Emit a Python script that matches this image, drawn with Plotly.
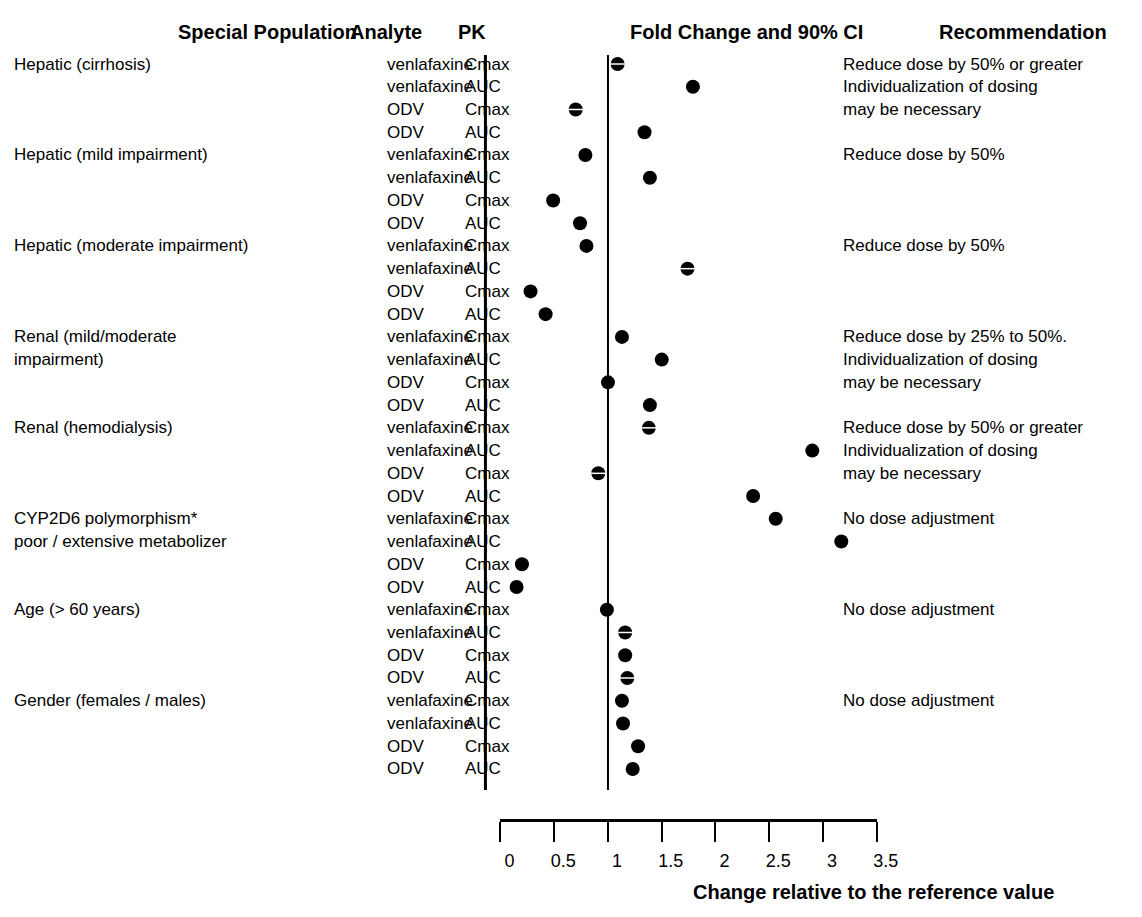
import plotly.graph_objects as go

# page body has an 8px margin: figure is sized so the page is 1142x917
W, H = 1142, 917
M = 8
WF, HF = W - 2 * M, H - 2 * M
WP = WF - 23  # effective paper width observed in the rendered page

populations = [
    "Hepatic (cirrhosis)", "", "", "",
    "Hepatic (mild impairment)", "", "", "",
    "Hepatic (moderate impairment)", "", "", "",
    "Renal (mild/moderate", "impairment)", "", "",
    "Renal (hemodialysis)", "", "", "",
    "CYP2D6 polymorphism*", "poor / extensive metabolizer", "", "",
    "Age (> 60 years)", "", "", "",
    "Gender (females / males)", "", "", "",
]
analytes = ["venlafaxine", "venlafaxine", "ODV", "ODV"] * 8
pk_params = ["Cmax", "AUC", "Cmax", "AUC"] * 8
fold_change = [
    1.09, 1.79, 0.70, 1.34,
    0.79, 1.39, 0.49, 0.74,
    0.80, 1.74, 0.28, 0.42,
    1.13, 1.50, 1.00, 1.39,
    1.38, 2.90, 0.91, 2.35,
    2.56, 3.17, 0.20, 0.15,
    0.99, 1.16, 1.16, 1.18,
    1.13, 1.14, 1.28, 1.23,
]
striped = [
    1, 0, 1, 0,
    0, 0, 0, 0,
    0, 1, 0, 0,
    0, 0, 0, 0,
    1, 0, 1, 0,
    0, 0, 0, 0,
    0, 1, 0, 1,
    0, 0, 0, 0,
]
recommendations = [
    "Reduce dose by 50% or greater", "Individualization of dosing", "may be necessary", "",
    "Reduce dose by 50%", "", "", "",
    "Reduce dose by 50%", "", "", "",
    "Reduce dose by 25% to 50%.", "Individualization of dosing", "may be necessary", "",
    "Reduce dose by 50% or greater", "Individualization of dosing", "may be necessary", "",
    "No dose adjustment", "", "", "",
    "No dose adjustment", "", "", "",
    "No dose adjustment", "", "", "",
]
x_ticks = [0, 0.5, 1, 1.5, 2, 2.5, 3, 3.5]
x_tick_labels = ["0", "0.5", "1", "1.5", "2", "2.5", "3", "3.5"]
headers = ["Special Population", "Analyte", "PK", "Fold Change and 90% CI", "Recommendation"]
axis_title = "Change relative to the reference value"

FONT = "Liberation Sans, Arial, sans-serif"
rows = list(range(len(fold_change)))
y0, dy = 64 - M, 22.74
y_top = -y0 / dy
y_bot = (HF - y0) / dy


def px(x):
    return (x - M) / WP


def py(y):
    return 1 - (y - M) / HF


def ry(y):
    return (y - M - y0) / dy


fig = go.Figure()
fig.add_trace(go.Scatter(
    x=fold_change, y=rows, mode="markers",
    marker=dict(symbol="circle", size=14, color="black", line=dict(width=0)),
    showlegend=False, hoverinfo="skip",
))
sx = [v for v, s in zip(fold_change, striped) if s]
sy = [r for r, s in zip(rows, striped) if s]
fig.add_trace(go.Scatter(
    x=sx, y=sy, mode="markers",
    marker=dict(symbol="line-ew", size=14, color="white", line=dict(width=1.5, color="white")),
    showlegend=False, hoverinfo="skip",
))

ann = []
fs = 17
for i in rows:
    if populations[i]:
        ann.append(dict(x=px(12), y=i, xref="paper", yref="y", text=populations[i],
                        xanchor="left", yanchor="middle", showarrow=False,
                        font=dict(family=FONT, size=fs, color="black")))
    ann.append(dict(x=px(385), y=i, xref="paper", yref="y", text=analytes[i],
                    xanchor="left", yanchor="middle", showarrow=False,
                    font=dict(family=FONT, size=fs, color="black")))
    ann.append(dict(x=px(463), y=i, xref="paper", yref="y", text=pk_params[i],
                    xanchor="left", yanchor="middle", showarrow=False,
                    font=dict(family=FONT, size=fs, color="black")))
    if recommendations[i]:
        ann.append(dict(x=px(840), y=i, xref="paper", yref="y", text=recommendations[i],
                        xanchor="left", yanchor="middle", showarrow=False,
                        font=dict(family=FONT, size=fs, color="black")))

header_pos = [(176, "left"), (348, "left"), (456, "left"), (746, "center"), (1022, "center")]
for (hx, anc), ht in zip(header_pos, headers):
    ann.append(dict(x=px(hx), y=py(32), xref="paper", yref="paper", text="<b>%s</b>" % ht,
                    xanchor=anc, yanchor="middle", showarrow=False,
                    font=dict(family=FONT, size=20, color="black")))
ann.append(dict(x=px(873), y=py(892), xref="paper", yref="paper",
                text="<b>%s</b>" % axis_title,
                xanchor="center", yanchor="middle", showarrow=False,
                font=dict(family=FONT, size=20, color="black")))

shapes = [
    dict(type="line", xref="x", yref="y", x0=1, x1=1, y0=ry(55), y1=ry(790),
         line=dict(color="black", width=2)),
    dict(type="line", xref="paper", yref="y", x0=px(485), x1=px(485), y0=ry(55), y1=ry(790),
         line=dict(color="black", width=3)),
]

fig.update_layout(
    width=WF, height=HF,
    margin=dict(l=0, r=0, t=0, b=0),
    paper_bgcolor="white", plot_bgcolor="white",
    annotations=ann, shapes=shapes,
    xaxis=dict(domain=[px(500), px(876)], range=[0, 3.5], anchor="free", position=py(820),
               showgrid=False, zeroline=False, showline=True, linecolor="black", linewidth=3,
               ticks="outside", ticklen=20, tickwidth=2, tickcolor="black",
               tickvals=x_ticks, ticktext=x_tick_labels, ticklabelshift=9, ticklabelstandoff=3,
               tickfont=dict(family=FONT, size=18, color="black")),
    yaxis=dict(domain=[0, 1], range=[y_bot, y_top], visible=False, showgrid=False, zeroline=False),
)

fig.write_html("out.html")
